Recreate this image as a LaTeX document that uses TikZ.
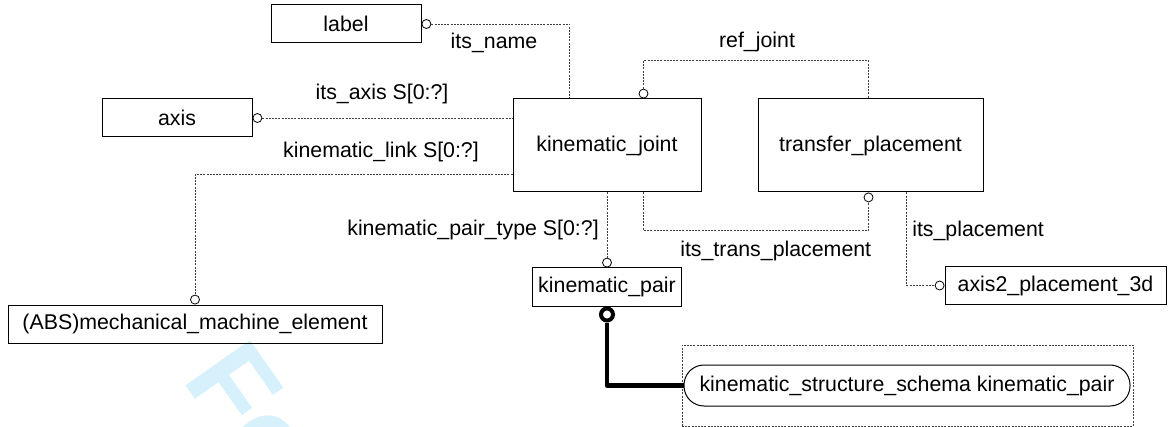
\documentclass[tikz,border=0pt]{standalone}
\usepackage{fontspec}
\setmainfont{Liberation Sans}
\usetikzlibrary{calc}
\newlength\px
\setlength\px{0.75pt}
\definecolor{wmark}{RGB}{214,240,252}

\begin{document}
\begin{tikzpicture}[
                    x=\px, y=-\px,
                    font=\fontsize{16}{19}\selectfont,
                    entity/.style={draw, line width=0.75pt, inner sep=0pt, minimum height=38\px},
                    ring/.style={circle, draw, fill=white, line width=0.6pt, inner sep=0pt, minimum size=9\px},
                    fat ring/.style={circle, draw, fill=white, line width=3pt, inner sep=0pt, minimum size=12\px},
                    rel/.style={draw=black!75, line width=0.6pt, dash pattern=on 1.5pt off 0.9pt},
                    fat link/.style={line width=3.5pt, line join=round},
                    tag/.style={inner sep=0pt}
                ]
                \useasboundingbox (0,0) rectangle (1176,427);

                % watermark
                \begin{scope}
                    \clip (0,0) rectangle (1176,427);
                    \node[anchor=base west, inner sep=0pt, rotate=-55, text=wmark,
                          font=\fontsize{86}{86}\selectfont\bfseries] (wm) at (181,379) {Fo};
                \end{scope}

                % entities
                \node[entity, minimum width=150\px] (label) at (346,24) {label};
                \node[entity, minimum width=150\px] (axis) at (177,118) {axis};
                \node[entity, minimum width=188\px, minimum height=93\px] (kjoint) at (607,145.5) {kinematic\_joint};
                \node[entity, minimum width=225\px, minimum height=93\px] (tplace) at (870.5,145.5) {transfer\_placement};
                \node[entity, minimum width=374\px] (mech) at (195,324) {(ABS)mechanical\_machine\_element};
                \node[entity, minimum width=149\px] (kpair) at (607,287) {kinematic\_pair};
                \node[entity, minimum width=221\px, minimum height=37\px] (a2p) at (1055.5,285.5) {axis2\_placement\_3d};

                % schema reference
                \node[rel, minimum width=451\px, minimum height=81\px] (frame) at (907.5,385.5) {};
                \node[draw, line width=0.75pt, rounded corners=15pt, inner sep=0pt,
                      minimum width=446\px, minimum height=41\px] (schema) at (907,385.5)
                      {kinematic\_structure\_schema kinematic\_pair};

                % rings
                \node[ring, anchor=west]  (r_label)  at (label.east) {};
                \node[ring, anchor=west]  (r_axis)   at (axis.east) {};
                \node[ring, anchor=south] (r_kjoint) at ($(kjoint.north west)+(131,0)$) {};
                \node[ring, anchor=north] (r_tplace) at ($(tplace.south west)+(111,0)$) {};
                \node[ring, anchor=south] (r_mech)   at (mech.north) {};
                \node[ring, anchor=south] (r_kpair)  at (kpair.north) {};
                \node[ring, anchor=east]  (r_a2p)    at (a2p.west) {};
                \node[fat ring, anchor=north] (r_pair) at (kpair.south) {};

                % relations
                \draw[rel] (r_label.east) -| ($(kjoint.north west)+(57,0)$);
                \draw[rel] (r_axis.east) -- (r_axis.east -| kjoint.west);
                \draw[rel] ($(kjoint.south west)+(0,-18)$) -| (r_mech.north);
                \draw[rel] (r_kjoint.north) -- ++(0,-28) -| ($(tplace.north west)+(111,0)$);
                \draw[rel] ($(kjoint.south west)+(131,0)$) -- ++(0,38) -| (r_tplace.south);
                \draw[rel] ($(tplace.south west)+(149,0)$) |- (r_a2p.west);
                \draw[rel] (kjoint.south) -- (r_kpair.north);
                \draw[fat link] (r_pair.south) |- (schema.west);

                % role names
                \node[tag] (t_name)  at (494,43)  {its\_name};
                \node[tag] (t_axis)  at (382,94)  {its\_axis S[0:?]};
                \node[tag] (t_link)  at (381,152) {kinematic\_link S[0:?]};
                \node[tag] (t_ref)   at (757,42)  {ref\_joint};
                \node[tag, anchor=east] (t_type)  at (599,230) {kinematic\_pair\_type S[0:?]};
                \node[tag, anchor=west] (t_trans) at (680,251) {its\_trans\_placement};
                \node[tag, anchor=west] (t_place) at (912,231) {its\_placement};
\end{tikzpicture}
\end{document}
